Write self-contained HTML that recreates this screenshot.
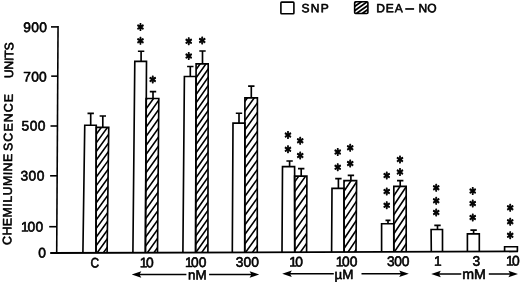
<!DOCTYPE html>
<html lang="en"><head><meta charset="utf-8"><title>Chemiluminescence chart</title>
<style>html,body{margin:0;padding:0;background:#fff}svg{display:block;filter:blur(0.35px)}</style></head>
<body>
<svg width="520" height="283" viewBox="0 0 520 283">
<rect width="520" height="283" fill="#fff"/>
<defs><clipPath id="c1"><polygon points="96.00,252.85 96.25,127.30 108.75,127.30 107.10,252.81"/></clipPath><clipPath id="c2"><polygon points="145.40,252.68 146.10,98.50 158.80,98.50 157.50,252.64"/></clipPath><clipPath id="c3"><polygon points="195.60,252.52 196.10,63.80 208.20,63.80 207.90,252.48"/></clipPath><clipPath id="c4"><polygon points="244.75,252.36 244.90,97.90 257.40,97.90 257.25,252.31"/></clipPath><clipPath id="c5"><polygon points="294.75,252.19 294.60,176.10 306.90,176.10 306.60,252.15"/></clipPath><clipPath id="c6"><polygon points="344.10,252.03 344.00,180.60 356.60,180.60 356.00,251.99"/></clipPath><clipPath id="c7"><polygon points="393.80,251.86 393.80,186.40 406.20,186.40 406.20,251.82"/></clipPath><clipPath id="c8"><polygon points="354.65,13.50 354.65,1.75 367.90,1.75 367.90,13.50"/></clipPath></defs>
<polyline points="82.90,252.89 84.75,125.20 96.25,125.20 96.00,252.85" fill="none" stroke="#000" stroke-width="1.65" stroke-linejoin="miter"/>
<path d="M90.70 125.2V113.3M87.50 113.3H93.90" stroke="#000" stroke-width="1.65" fill="none"/>
<path clip-path="url(#c1)" d="M94.00 282.81L110.75 259.69M94.00 274.26L110.75 251.15M94.00 265.71L110.75 242.59M94.00 257.16L110.75 234.04M94.00 248.61L110.75 225.49M94.00 240.06L110.75 216.94M94.00 231.51L110.75 208.39M94.00 222.96L110.75 199.84M94.00 214.41L110.75 191.29M94.00 205.86L110.75 182.74M94.00 197.31L110.75 174.19M94.00 188.76L110.75 165.64M94.00 180.21L110.75 157.09M94.00 171.66L110.75 148.54M94.00 163.11L110.75 139.99M94.00 154.56L110.75 131.44M94.00 146.01L110.75 122.89M94.00 137.46L110.75 114.34M94.00 128.91L110.75 105.79" stroke="#000" stroke-width="1.6" fill="none"/>
<polyline points="96.00,252.85 96.25,127.30 108.75,127.30 107.10,252.81" fill="none" stroke="#000" stroke-width="1.65" stroke-linejoin="miter"/>
<path d="M102.80 127.3V116.0M99.60 116.0H106.00" stroke="#000" stroke-width="1.65" fill="none"/>
<polyline points="132.90,252.73 134.80,61.40 146.50,61.40 145.40,252.68" fill="none" stroke="#000" stroke-width="1.65" stroke-linejoin="miter"/>
<path d="M141.10 61.4V51.2M137.90 51.2H144.30" stroke="#000" stroke-width="1.65" fill="none"/>
<path clip-path="url(#c2)" d="M143.40 285.60L160.80 261.24M143.40 276.50L160.80 252.14M143.40 267.40L160.80 243.04M143.40 258.30L160.80 233.94M143.40 249.20L160.80 224.84M143.40 240.10L160.80 215.74M143.40 231.00L160.80 206.64M143.40 221.90L160.80 197.54M143.40 212.80L160.80 188.44M143.40 203.70L160.80 179.34M143.40 194.60L160.80 170.24M143.40 185.50L160.80 161.14M143.40 176.40L160.80 152.04M143.40 167.30L160.80 142.94M143.40 158.20L160.80 133.84M143.40 149.10L160.80 124.74M143.40 140.00L160.80 115.64M143.40 130.90L160.80 106.54M143.40 121.80L160.80 97.44M143.40 112.70L160.80 88.34M143.40 103.60L160.80 79.24" stroke="#000" stroke-width="1.6" fill="none"/>
<polyline points="145.40,252.68 146.10,98.50 158.80,98.50 157.50,252.64" fill="none" stroke="#000" stroke-width="1.65" stroke-linejoin="miter"/>
<path d="M153.00 98.5V91.6M149.80 91.6H156.20" stroke="#000" stroke-width="1.65" fill="none"/>
<polyline points="182.90,252.56 184.40,76.50 196.10,76.50 195.60,252.52" fill="none" stroke="#000" stroke-width="1.65" stroke-linejoin="miter"/>
<path d="M190.30 76.5V66.5M187.10 66.5H193.50" stroke="#000" stroke-width="1.65" fill="none"/>
<path clip-path="url(#c3)" d="M193.60 280.64L210.20 257.07M193.60 272.34L210.20 248.77M193.60 264.04L210.20 240.47M193.60 255.74L210.20 232.17M193.60 247.44L210.20 223.87M193.60 239.14L210.20 215.57M193.60 230.84L210.20 207.27M193.60 222.54L210.20 198.97M193.60 214.24L210.20 190.67M193.60 205.94L210.20 182.37M193.60 197.64L210.20 174.07M193.60 189.34L210.20 165.77M193.60 181.04L210.20 157.47M193.60 172.74L210.20 149.17M193.60 164.44L210.20 140.87M193.60 156.14L210.20 132.57M193.60 147.84L210.20 124.27M193.60 139.54L210.20 115.97M193.60 131.24L210.20 107.67M193.60 122.94L210.20 99.37M193.60 114.64L210.20 91.07M193.60 106.34L210.20 82.77M193.60 98.04L210.20 74.47M193.60 89.74L210.20 66.17M193.60 81.44L210.20 57.87M193.60 73.14L210.20 49.57M193.60 64.84L210.20 41.27" stroke="#000" stroke-width="1.6" fill="none"/>
<polyline points="195.60,252.52 196.10,63.80 208.20,63.80 207.90,252.48" fill="none" stroke="#000" stroke-width="1.65" stroke-linejoin="miter"/>
<path d="M202.50 63.8V51.0M199.30 51.0H205.70" stroke="#000" stroke-width="1.65" fill="none"/>
<polyline points="232.30,252.40 233.00,123.10 244.90,123.10 244.75,252.36" fill="none" stroke="#000" stroke-width="1.65" stroke-linejoin="miter"/>
<path d="M239.00 123.1V113.2M235.80 113.2H242.20" stroke="#000" stroke-width="1.65" fill="none"/>
<path clip-path="url(#c4)" d="M242.75 284.76L259.40 261.78M242.75 275.26L259.40 252.28M242.75 265.76L259.40 242.78M242.75 256.26L259.40 233.28M242.75 246.76L259.40 223.78M242.75 237.26L259.40 214.28M242.75 227.76L259.40 204.78M242.75 218.26L259.40 195.28M242.75 208.76L259.40 185.78M242.75 199.26L259.40 176.28M242.75 189.76L259.40 166.78M242.75 180.26L259.40 157.28M242.75 170.76L259.40 147.78M242.75 161.26L259.40 138.28M242.75 151.76L259.40 128.78M242.75 142.26L259.40 119.28M242.75 132.76L259.40 109.78M242.75 123.26L259.40 100.28M242.75 113.76L259.40 90.78M242.75 104.26L259.40 81.28" stroke="#000" stroke-width="1.6" fill="none"/>
<polyline points="244.75,252.36 244.90,97.90 257.40,97.90 257.25,252.31" fill="none" stroke="#000" stroke-width="1.65" stroke-linejoin="miter"/>
<path d="M251.30 97.9V86.1M248.10 86.1H254.50" stroke="#000" stroke-width="1.65" fill="none"/>
<polyline points="282.00,252.23 282.50,166.60 294.60,166.60 294.75,252.19" fill="none" stroke="#000" stroke-width="1.65" stroke-linejoin="miter"/>
<path d="M289.60 166.6V161.0M286.40 161.0H292.80" stroke="#000" stroke-width="1.65" fill="none"/>
<path clip-path="url(#c5)" d="M292.60 282.84L308.90 259.69M292.60 273.04L308.90 249.89M292.60 263.24L308.90 240.09M292.60 253.44L308.90 230.29M292.60 243.64L308.90 220.49M292.60 233.84L308.90 210.69M292.60 224.04L308.90 200.89M292.60 214.24L308.90 191.09M292.60 204.44L308.90 181.29M292.60 194.64L308.90 171.49M292.60 184.84L308.90 161.69M292.60 175.04L308.90 151.89" stroke="#000" stroke-width="1.6" fill="none"/>
<polyline points="294.75,252.19 294.60,176.10 306.90,176.10 306.60,252.15" fill="none" stroke="#000" stroke-width="1.65" stroke-linejoin="miter"/>
<path d="M301.20 176.1V168.6M298.00 168.6H304.40" stroke="#000" stroke-width="1.65" fill="none"/>
<polyline points="331.60,252.07 332.00,188.30 344.00,188.30 344.10,252.03" fill="none" stroke="#000" stroke-width="1.65" stroke-linejoin="miter"/>
<path d="M338.40 188.3V178.6M335.20 178.6H341.60" stroke="#000" stroke-width="1.65" fill="none"/>
<path clip-path="url(#c6)" d="M342.00 280.20L358.60 255.30M342.00 270.65L358.60 245.75M342.00 261.10L358.60 236.20M342.00 251.55L358.60 226.65M342.00 242.00L358.60 217.10M342.00 232.45L358.60 207.55M342.00 222.90L358.60 198.00M342.00 213.35L358.60 188.45M342.00 203.80L358.60 178.90M342.00 194.25L358.60 169.35M342.00 184.70L358.60 159.80" stroke="#000" stroke-width="1.6" fill="none"/>
<polyline points="344.10,252.03 344.00,180.60 356.60,180.60 356.00,251.99" fill="none" stroke="#000" stroke-width="1.65" stroke-linejoin="miter"/>
<path d="M350.90 180.6V175.3M347.70 175.3H354.10" stroke="#000" stroke-width="1.65" fill="none"/>
<polyline points="381.60,251.90 381.60,223.70 393.80,223.70 393.80,251.86" fill="none" stroke="#000" stroke-width="1.65" stroke-linejoin="miter"/>
<path d="M388.00 223.7V220.3M385.50 220.3H390.50" stroke="#000" stroke-width="1.65" fill="none"/>
<path clip-path="url(#c7)" d="M391.80 284.30L408.20 259.70M391.80 274.80L408.20 250.20M391.80 265.30L408.20 240.70M391.80 255.80L408.20 231.20M391.80 246.30L408.20 221.70M391.80 236.80L408.20 212.20M391.80 227.30L408.20 202.70M391.80 217.80L408.20 193.20M391.80 208.30L408.20 183.70M391.80 198.80L408.20 174.20M391.80 189.30L408.20 164.70" stroke="#000" stroke-width="1.6" fill="none"/>
<polyline points="393.80,251.86 393.80,186.40 406.20,186.40 406.20,251.82" fill="none" stroke="#000" stroke-width="1.65" stroke-linejoin="miter"/>
<path d="M400.20 186.4V180.6M397.00 180.6H403.40" stroke="#000" stroke-width="1.65" fill="none"/>
<polyline points="431.30,251.74 431.10,229.50 442.50,229.50 442.50,251.70" fill="none" stroke="#000" stroke-width="1.65" stroke-linejoin="miter"/>
<path d="M437.50 229.5V225.3M434.30 225.3H440.70" stroke="#000" stroke-width="1.65" fill="none"/>
<polyline points="467.40,251.62 467.40,233.90 479.30,233.90 479.30,251.58" fill="none" stroke="#000" stroke-width="1.65" stroke-linejoin="miter"/>
<path d="M473.60 233.9V230.1M470.40 230.1H476.80" stroke="#000" stroke-width="1.65" fill="none"/>
<polyline points="504.60,251.49 504.60,246.70 517.40,246.70 517.40,251.45" fill="none" stroke="#000" stroke-width="1.65" stroke-linejoin="miter"/>
<path d="M58.05 26.1L56.7 253" stroke="#000" stroke-width="1.6" fill="none"/>
<path d="M50.2 253.0L518 251.45" stroke="#000" stroke-width="1.8" fill="none"/>
<path d="M51.0 26.9H58.1" stroke="#000" stroke-width="1.6" fill="none"/>
<path d="M51.2 76.15H57.8" stroke="#000" stroke-width="1.6" fill="none"/>
<path d="M50.5 126.0H57.5" stroke="#000" stroke-width="1.6" fill="none"/>
<path d="M50.1 175.8H57.2" stroke="#000" stroke-width="1.6" fill="none"/>
<path d="M49.2 226.7H56.9" stroke="#000" stroke-width="1.6" fill="none"/>
<g font-family='"Liberation Sans", Arial, Helvetica, sans-serif' font-size="13.8" fill="#000" stroke="#000" stroke-width="0.6" stroke-linejoin="round">
<text transform="translate(47.5 32.0) rotate(0.05)" text-anchor="end" letter-spacing="0.45">900</text>
<text transform="translate(46.7 81.5) rotate(0.05)" text-anchor="end" letter-spacing="0.1">700</text>
<text transform="translate(45.9 130.6) rotate(0.05)" text-anchor="end" letter-spacing="0.45">500</text>
<text transform="translate(44.8 180.6) rotate(0.05)" text-anchor="end" letter-spacing="0.45">300</text>
<text transform="translate(43.7 231.5) rotate(0.05)" text-anchor="end" letter-spacing="0.45">1<tspan dx='-1.7'>00</tspan></text>
<text transform="translate(46.4 257.5) rotate(0.05)" text-anchor="end" letter-spacing="0.45">0</text>
<text transform="translate(94.7 267.40) rotate(0.05) scale(0.86 1)" text-anchor="middle" letter-spacing="0.1">C</text>
<text transform="translate(146.75 267.16) rotate(0.05)" text-anchor="middle" letter-spacing="0.1">1<tspan dx='-1.7'>0</tspan></text>
<text transform="translate(195.7 266.94) rotate(0.05)" text-anchor="middle" letter-spacing="0.1">1<tspan dx='-1.7'>00</tspan></text>
<text transform="translate(247.3 266.70) rotate(0.05)" text-anchor="middle" letter-spacing="0.1">300</text>
<text transform="translate(296.2 266.47) rotate(0.05)" text-anchor="middle" letter-spacing="0.1">1<tspan dx='-1.7'>0</tspan></text>
<text transform="translate(346.6 266.24) rotate(0.05)" text-anchor="middle" letter-spacing="0.1">1<tspan dx='-1.7'>00</tspan></text>
<text transform="translate(398.0 266.01) rotate(0.05)" text-anchor="middle" letter-spacing="-0.35">300</text>
<text transform="translate(438.0 265.82) rotate(0.05)" text-anchor="middle" letter-spacing="0.1">1</text>
<text transform="translate(476.3 265.65) rotate(0.05)" text-anchor="middle" letter-spacing="0.1">3</text>
<text transform="translate(512.8 265.48) rotate(0.05)" text-anchor="middle" letter-spacing="0.1">1<tspan dx='-1.7'>0</tspan></text>
<text transform="translate(197.4 279.4) rotate(0.05)" text-anchor="middle" font-size="13.4">nM</text>
<text transform="translate(344 279) rotate(0.05)" text-anchor="middle" font-size="13.4">µM</text>
<text transform="translate(474.0 279.1) rotate(0.05)" text-anchor="middle" font-size="14.2">mM</text>
<text transform="translate(301.6 12.2) rotate(0.05)" font-size="12" letter-spacing="1.2">SNP</text>
<text transform="translate(376.2 12.3) rotate(0.05)" font-size="12" letter-spacing="0.9">DEA</text>
<text transform="translate(405.5 12.0) rotate(0.05) scale(0.7 1)" font-size="12" stroke-width="0.8">—</text>
<text transform="translate(418.4 12.3) rotate(0.05)" font-size="12" letter-spacing="0.3">NO</text>
<text transform="translate(11.2 245) rotate(-89.4)" font-size="12.3"><tspan letter-spacing="0.51">CHEMILUMINE</tspan><tspan dx="2.3" letter-spacing="1.16">SCENCE</tspan><tspan dx="11.3" letter-spacing="-0.24"> UNITS</tspan></text>
<text transform="translate(140.4 34.76) rotate(0.05) scale(0.93 1.15)" text-anchor="middle" font-family="DejaVu Sans, sans-serif" font-weight="bold" font-size="13.2" stroke-width="0.85">*</text>
<text transform="translate(140.4 48.56) rotate(0.05) scale(0.93 1.15)" text-anchor="middle" font-family="DejaVu Sans, sans-serif" font-weight="bold" font-size="13.2" stroke-width="0.85">*</text>
<text transform="translate(152.7 87.36) rotate(0.05) scale(0.93 1.15)" text-anchor="middle" font-family="DejaVu Sans, sans-serif" font-weight="bold" font-size="13.2" stroke-width="0.85">*</text>
<text transform="translate(188.6 49.06) rotate(0.05) scale(0.93 1.15)" text-anchor="middle" font-family="DejaVu Sans, sans-serif" font-weight="bold" font-size="13.2" stroke-width="0.85">*</text>
<text transform="translate(188.6 63.76) rotate(0.05) scale(0.93 1.15)" text-anchor="middle" font-family="DejaVu Sans, sans-serif" font-weight="bold" font-size="13.2" stroke-width="0.85">*</text>
<text transform="translate(202.1 48.26) rotate(0.05) scale(0.93 1.15)" text-anchor="middle" font-family="DejaVu Sans, sans-serif" font-weight="bold" font-size="13.2" stroke-width="0.85">*</text>
<text transform="translate(288.0 142.76) rotate(0.05) scale(0.93 1.15)" text-anchor="middle" font-family="DejaVu Sans, sans-serif" font-weight="bold" font-size="13.2" stroke-width="0.85">*</text>
<text transform="translate(288.0 157.06) rotate(0.05) scale(0.93 1.15)" text-anchor="middle" font-family="DejaVu Sans, sans-serif" font-weight="bold" font-size="13.2" stroke-width="0.85">*</text>
<text transform="translate(300.3 148.56) rotate(0.05) scale(0.93 1.15)" text-anchor="middle" font-family="DejaVu Sans, sans-serif" font-weight="bold" font-size="13.2" stroke-width="0.85">*</text>
<text transform="translate(300.3 163.16) rotate(0.05) scale(0.93 1.15)" text-anchor="middle" font-family="DejaVu Sans, sans-serif" font-weight="bold" font-size="13.2" stroke-width="0.85">*</text>
<text transform="translate(337.8 159.86) rotate(0.05) scale(0.93 1.15)" text-anchor="middle" font-family="DejaVu Sans, sans-serif" font-weight="bold" font-size="13.2" stroke-width="0.85">*</text>
<text transform="translate(337.8 174.96) rotate(0.05) scale(0.93 1.15)" text-anchor="middle" font-family="DejaVu Sans, sans-serif" font-weight="bold" font-size="13.2" stroke-width="0.85">*</text>
<text transform="translate(350.2 155.46) rotate(0.05) scale(0.93 1.15)" text-anchor="middle" font-family="DejaVu Sans, sans-serif" font-weight="bold" font-size="13.2" stroke-width="0.85">*</text>
<text transform="translate(350.2 171.26) rotate(0.05) scale(0.93 1.15)" text-anchor="middle" font-family="DejaVu Sans, sans-serif" font-weight="bold" font-size="13.2" stroke-width="0.85">*</text>
<text transform="translate(386.8 183.16) rotate(0.05) scale(0.93 1.15)" text-anchor="middle" font-family="DejaVu Sans, sans-serif" font-weight="bold" font-size="13.2" stroke-width="0.85">*</text>
<text transform="translate(386.8 199.16) rotate(0.05) scale(0.93 1.15)" text-anchor="middle" font-family="DejaVu Sans, sans-serif" font-weight="bold" font-size="13.2" stroke-width="0.85">*</text>
<text transform="translate(386.8 212.96) rotate(0.05) scale(0.93 1.15)" text-anchor="middle" font-family="DejaVu Sans, sans-serif" font-weight="bold" font-size="13.2" stroke-width="0.85">*</text>
<text transform="translate(399.9 167.36) rotate(0.05) scale(0.93 1.15)" text-anchor="middle" font-family="DejaVu Sans, sans-serif" font-weight="bold" font-size="13.2" stroke-width="0.85">*</text>
<text transform="translate(399.9 179.86) rotate(0.05) scale(0.93 1.15)" text-anchor="middle" font-family="DejaVu Sans, sans-serif" font-weight="bold" font-size="13.2" stroke-width="0.85">*</text>
<text transform="translate(436.3 195.46) rotate(0.05) scale(0.93 1.15)" text-anchor="middle" font-family="DejaVu Sans, sans-serif" font-weight="bold" font-size="13.2" stroke-width="0.85">*</text>
<text transform="translate(436.3 208.46) rotate(0.05) scale(0.93 1.15)" text-anchor="middle" font-family="DejaVu Sans, sans-serif" font-weight="bold" font-size="13.2" stroke-width="0.85">*</text>
<text transform="translate(436.3 220.26) rotate(0.05) scale(0.93 1.15)" text-anchor="middle" font-family="DejaVu Sans, sans-serif" font-weight="bold" font-size="13.2" stroke-width="0.85">*</text>
<text transform="translate(472.8 198.66) rotate(0.05) scale(0.93 1.15)" text-anchor="middle" font-family="DejaVu Sans, sans-serif" font-weight="bold" font-size="13.2" stroke-width="0.85">*</text>
<text transform="translate(472.8 211.26) rotate(0.05) scale(0.93 1.15)" text-anchor="middle" font-family="DejaVu Sans, sans-serif" font-weight="bold" font-size="13.2" stroke-width="0.85">*</text>
<text transform="translate(472.8 225.36) rotate(0.05) scale(0.93 1.15)" text-anchor="middle" font-family="DejaVu Sans, sans-serif" font-weight="bold" font-size="13.2" stroke-width="0.85">*</text>
<text transform="translate(510.2 215.56) rotate(0.05) scale(0.93 1.15)" text-anchor="middle" font-family="DejaVu Sans, sans-serif" font-weight="bold" font-size="13.2" stroke-width="0.85">*</text>
<text transform="translate(510.2 229.46) rotate(0.05) scale(0.93 1.15)" text-anchor="middle" font-family="DejaVu Sans, sans-serif" font-weight="bold" font-size="13.2" stroke-width="0.85">*</text>
<text transform="translate(510.2 243.06) rotate(0.05) scale(0.93 1.15)" text-anchor="middle" font-family="DejaVu Sans, sans-serif" font-weight="bold" font-size="13.2" stroke-width="0.85">*</text>
</g>
<rect x="280.9" y="2.1" width="13.0" height="11.7" rx="0.8" fill="none" stroke="#000" stroke-width="1.6"/>
<path clip-path="url(#c8)" d="M352.65 40.70L369.90 28.62M352.65 36.60L369.90 24.52M352.65 32.50L369.90 20.42M352.65 28.40L369.90 16.32M352.65 24.30L369.90 12.22M352.65 20.20L369.90 8.12M352.65 16.10L369.90 4.02M352.65 12.00L369.90 -0.08M352.65 7.90L369.90 -4.18M352.65 3.80L369.90 -8.28M352.65 -0.30L369.90 -12.38" stroke="#000" stroke-width="1.8" fill="none"/>
<rect x="354.65" y="1.75" width="13.25" height="11.75" rx="1" fill="none" stroke="#000" stroke-width="1.6"/>
<path d="M136.7 274.5H186.4M209.1 274.5H254.2" stroke="#000" stroke-width="1.6" fill="none"/>
<path d="M131.7 274.5l9.6 -3.3l-1.8 3.3l1.8 3.3zM259.2 274.5l-9.6 -3.3l1.8 3.3l-1.8 3.3z" fill="#000"/>
<path d="M287.2 273.8H333.8M361.5 273.8H403.8" stroke="#000" stroke-width="1.6" fill="none"/>
<path d="M282.2 273.8l9.6 -3.3l-1.8 3.3l1.8 3.3zM408.8 273.8l-9.6 -3.3l1.8 3.3l-1.8 3.3z" fill="#000"/>
<path d="M436.2 274.0H461.3M488.8 274.0H513.0" stroke="#000" stroke-width="1.6" fill="none"/>
<path d="M431.2 274.0l9.6 -3.3l-1.8 3.3l1.8 3.3zM518.0 274.0l-9.6 -3.3l1.8 3.3l-1.8 3.3z" fill="#000"/>
</svg>
</body></html>
